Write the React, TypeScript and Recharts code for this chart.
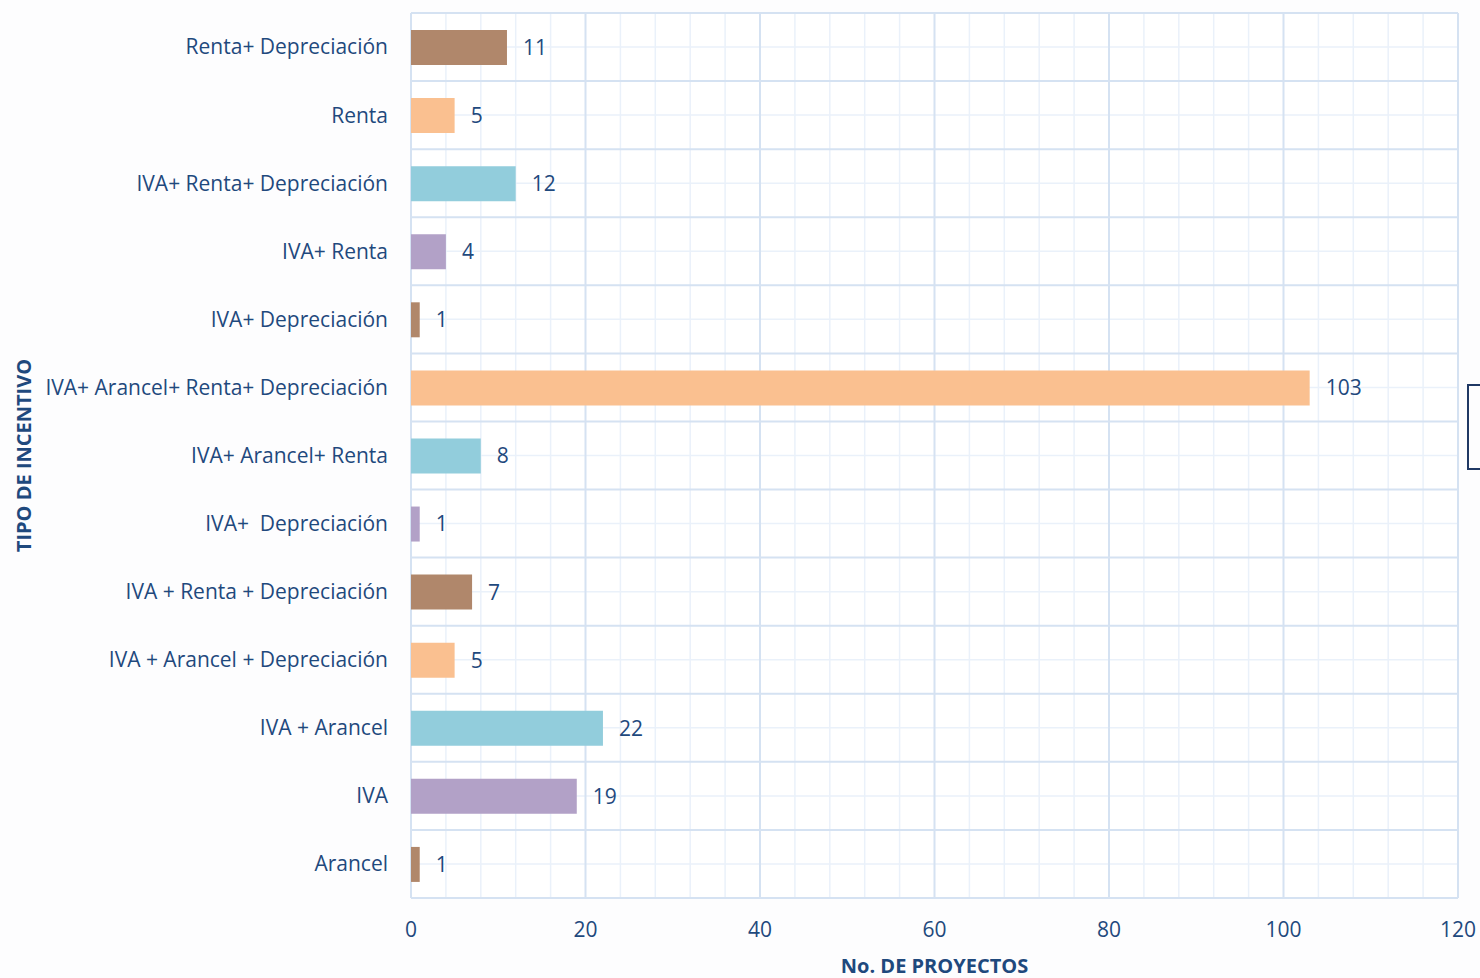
import { BarChart, Bar, XAxis, YAxis, CartesianGrid, LabelList, Cell } from 'recharts'

const categories = [
  'Renta+ Depreciación',
  'Renta',
  'IVA+ Renta+ Depreciación',
  'IVA+ Renta',
  'IVA+ Depreciación',
  'IVA+ Arancel+ Renta+ Depreciación',
  'IVA+ Arancel+ Renta',
  'IVA+\u00A0 Depreciación',
  'IVA + Renta + Depreciación',
  'IVA + Arancel + Depreciación',
  'IVA + Arancel',
  'IVA',
  'Arancel',
]
const projects = [11, 5, 12, 4, 1, 103, 8, 1, 7, 5, 22, 19, 1]
const barColors = [
  '#B0876B', '#FAC090', '#92CDDC', '#B2A1C7',
  '#B0876B', '#FAC090', '#92CDDC', '#B2A1C7',
  '#B0876B', '#FAC090', '#92CDDC', '#B2A1C7',
  '#B0876B',
]
const xTicks = [0, 20, 40, 60, 80, 100, 120]
const minorTicks = [4, 8, 12, 16, 24, 28, 32, 36, 44, 48, 52, 56, 64, 68, 72, 76, 84, 88, 92, 96, 104, 108, 112, 116]

const TEXT = '#1F497D'
const FONT = '"Open Sans", Lato, sans-serif'

export default function App() {
  const data = categories.map((name, i) => ({ name, value: projects[i] }))

  // grid lines at band edges and band centers
  const bandLines = (centers: boolean) => (props: any) => {
    const { offset } = props
    const step = offset.height / categories.length
    const out: number[] = []
    for (let i = 0; i <= categories.length; i++) {
      if (centers) {
        if (i < categories.length) out.push(offset.top + step * i + step / 2)
      } else {
        out.push(offset.top + step * i)
      }
    }
    return out
  }
  const xLines = (ticks: number[]) => (props: any) => {
    const { offset } = props
    return ticks.map((t) => offset.left + (t / 120) * offset.width)
  }

  return (
    <div style={{ position: 'absolute', left: 0, top: 0, width: 1480, height: 978, background: '#FDFDFE', fontFamily: FONT, overflow: 'hidden' }}>
      <BarChart
        width={1480}
        height={978}
        data={data}
        layout="vertical"
        margin={{ top: 13, right: 22, bottom: 0, left: 0 }}
        barSize={35}
      >
        <CartesianGrid
          stroke="#EAF1FA"
          strokeWidth={1.5}
          horizontalCoordinatesGenerator={bandLines(true)}
          verticalCoordinatesGenerator={xLines(minorTicks)}
          fill="#FFFFFF"
        />
        <CartesianGrid
          stroke="#D5E2F2"
          strokeWidth={2}
          horizontalCoordinatesGenerator={bandLines(false)}
          verticalCoordinatesGenerator={xLines(xTicks)}
        />
        <XAxis
          type="number"
          domain={[0, 120]}
          ticks={xTicks}
          axisLine={false}
          tickLine={false}
          tickSize={0}
          tickMargin={24}
          height={80}
          tick={{ fill: TEXT, fontSize: 21, fontFamily: FONT }}
          label={{
            value: 'No. DE PROYECTOS',
            position: 'insideBottom',
            offset: 5,
            fill: TEXT,
            fontSize: 20,
            fontWeight: 'bold',
            fontFamily: FONT,
          }}
        />
        <YAxis
          type="category"
          dataKey="name"
          width={411}
          axisLine={false}
          tickLine={false}
          tickSize={0}
          tickMargin={23}
          interval={0}
          tick={{ fill: TEXT, fontSize: 21, fontFamily: FONT }}
          label={{
            value: 'TIPO DE INCENTIVO',
            angle: -90,
            position: 'insideLeft',
            offset: 24,
            fill: TEXT,
            fontSize: 20,
            fontWeight: 'bold',
            fontFamily: FONT,
            style: { textAnchor: 'middle' },
          }}
        />
        <Bar dataKey="value" isAnimationActive={false}>
          {data.map((d, i) => (
            <Cell key={d.name} fill={barColors[i]} />
          ))}
          <LabelList dataKey="value" position="right" offset={16} fill={TEXT} fontSize={21} fontFamily={FONT} />
        </Bar>
      </BarChart>
      <div style={{ position: 'absolute', left: 1467, top: 384, width: 40, height: 82, border: '2px solid #1F3864' }} />
    </div>
  )
}
